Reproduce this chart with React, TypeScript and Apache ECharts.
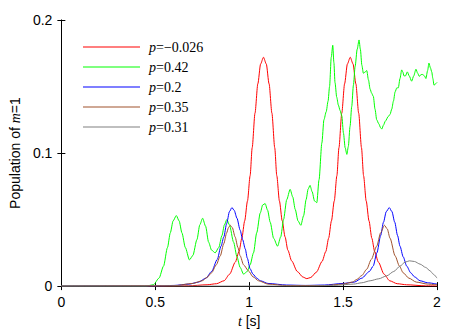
import React, { useEffect, useRef } from "react";
import * as echarts from "echarts";

const pLabels = ["−0.026", "0.42", "0.2", "0.35", "0.31"];
const seriesColors = ["#ff0000", "#00ff00", "#0000ff", "#a0522d", "#808080"];

const redData: [number, number][] = [
  [0, 0], [0.5, 0], [0.676, 0.0002], [0.776, 0.001], [0.826, 0.0018], [0.866, 0.004],
  [0.896, 0.009], [0.926, 0.018], [0.946, 0.026], [0.961, 0.036], [0.976, 0.049],
  [0.991, 0.064], [1.005, 0.083], [1.016, 0.104], [1.031, 0.13], [1.046, 0.152],
  [1.061, 0.167], [1.076, 0.172], [1.091, 0.167], [1.106, 0.152], [1.121, 0.13],
  [1.136, 0.104], [1.147, 0.083], [1.161, 0.064], [1.176, 0.049], [1.191, 0.037],
  [1.206, 0.027], [1.226, 0.019], [1.256, 0.011], [1.286, 0.0068], [1.307, 0.0056],
  [1.328, 0.0065], [1.358, 0.0105], [1.388, 0.0185], [1.408, 0.026], [1.423, 0.036],
  [1.438, 0.049], [1.453, 0.064], [1.467, 0.083], [1.478, 0.104], [1.493, 0.13],
  [1.508, 0.152], [1.523, 0.167], [1.538, 0.172], [1.553, 0.167], [1.568, 0.152],
  [1.583, 0.13], [1.598, 0.104], [1.609, 0.083], [1.623, 0.064], [1.638, 0.049],
  [1.653, 0.036], [1.668, 0.026], [1.688, 0.018], [1.718, 0.009], [1.748, 0.004],
  [1.788, 0.0018], [1.838, 0.001], [1.938, 0.0002], [2.0, 0.0001],
];

const greenData: [number, number][] = [
  [0, 0], [0.45, 0], [0.49, 0.001], [0.52, 0.006], [0.544, 0.015], [0.565, 0.029],
  [0.58, 0.04], [0.595, 0.049], [0.612, 0.053], [0.627, 0.049], [0.642, 0.04],
  [0.66, 0.029], [0.682, 0.0197], [0.7, 0.023], [0.722, 0.035], [0.737, 0.046],
  [0.752, 0.051], [0.768, 0.045], [0.784, 0.033], [0.8, 0.027], [0.819, 0.025],
  [0.838, 0.029], [0.855, 0.038], [0.868, 0.046], [0.881, 0.05], [0.895, 0.046],
  [0.917, 0.033], [0.935, 0.022], [0.952, 0.014], [0.97, 0.009], [0.99, 0.011],
  [1.005, 0.016], [1.023, 0.025], [1.04, 0.04], [1.059, 0.055], [1.072, 0.061],
  [1.085, 0.062], [1.098, 0.057], [1.112, 0.048], [1.13, 0.036], [1.151, 0.03],
  [1.168, 0.037], [1.183, 0.05], [1.2, 0.065], [1.218, 0.0727], [1.232, 0.067],
  [1.245, 0.0577], [1.26, 0.049], [1.275, 0.0457], [1.29, 0.053], [1.303, 0.065],
  [1.314, 0.073], [1.324, 0.0757], [1.335, 0.071], [1.348, 0.064], [1.36, 0.0627],
  [1.372, 0.08], [1.387, 0.1076], [1.398, 0.125], [1.41, 0.131], [1.42, 0.139],
  [1.428, 0.15], [1.437, 0.172], [1.445, 0.181], [1.451, 0.168], [1.457, 0.153],
  [1.466, 0.142], [1.475, 0.136], [1.484, 0.132], [1.493, 0.128], [1.502, 0.115],
  [1.511, 0.104], [1.52, 0.099], [1.528, 0.105], [1.537, 0.12], [1.546, 0.135],
  [1.555, 0.151], [1.564, 0.165], [1.575, 0.178], [1.585, 0.185], [1.592, 0.178],
  [1.6, 0.166], [1.608, 0.16], [1.618, 0.161], [1.626, 0.162], [1.635, 0.155],
  [1.644, 0.148], [1.652, 0.145], [1.661, 0.1426], [1.67, 0.133], [1.679, 0.125],
  [1.69, 0.122], [1.7, 0.119], [1.706, 0.118], [1.715, 0.121], [1.725, 0.124],
  [1.741, 0.1276], [1.75, 0.129], [1.759, 0.133], [1.768, 0.139], [1.777, 0.146],
  [1.786, 0.149], [1.794, 0.149], [1.803, 0.156], [1.812, 0.1625], [1.818, 0.161],
  [1.824, 0.158], [1.832, 0.158], [1.842, 0.161], [1.852, 0.158], [1.865, 0.154],
  [1.876, 0.158], [1.888, 0.163], [1.897, 0.16], [1.906, 0.1576], [1.915, 0.159],
  [1.924, 0.159], [1.933, 0.158], [1.941, 0.156], [1.95, 0.162], [1.957, 0.1676],
  [1.965, 0.164], [1.972, 0.161], [1.978, 0.156], [1.984, 0.151], [1.992, 0.152],
  [2.0, 0.153],
];

const blueData: [number, number][] = [
  [0, 0], [0.5, 0.0001], [0.6, 0.0005], [0.68, 0.0015], [0.73, 0.003], [0.77, 0.006],
  [0.8, 0.011], [0.83, 0.02], [0.85, 0.03], [0.865, 0.037], [0.88, 0.047],
  [0.895, 0.056], [0.908, 0.059], [0.92, 0.057], [0.935, 0.051], [0.952, 0.042],
  [0.965, 0.035], [0.979, 0.028], [0.99, 0.021], [1.005, 0.013], [1.02, 0.009],
  [1.04, 0.006], [1.06, 0.004], [1.1, 0.002], [1.2, 0.0008], [1.3, 0.0005],
  [1.4, 0.0008], [1.5, 0.002], [1.56, 0.003], [1.6, 0.006], [1.64, 0.011],
  [1.66, 0.015], [1.68, 0.025], [1.7, 0.038], [1.715, 0.048], [1.73, 0.056],
  [1.746, 0.059], [1.76, 0.056], [1.775, 0.048], [1.79, 0.038], [1.803, 0.03],
  [1.82, 0.022], [1.839, 0.015], [1.86, 0.01], [1.88, 0.007], [1.91, 0.004],
  [1.95, 0.0025], [2.0, 0.0015],
];

const brownData: [number, number][] = [
  [0, 0], [0.6, 0.0003], [0.7, 0.002], [0.75, 0.004], [0.775, 0.0065], [0.8, 0.01],
  [0.825, 0.016], [0.846, 0.0227], [0.865, 0.032], [0.88, 0.04], [0.89, 0.044],
  [0.899, 0.0457], [0.91, 0.044], [0.925, 0.037], [0.94, 0.029], [0.952, 0.0227],
  [0.97, 0.016], [0.996, 0.0115], [1.02, 0.007], [1.05, 0.004], [1.1, 0.0015],
  [1.2, 0.0004], [1.4, 0.0004], [1.5, 0.0015], [1.55, 0.003], [1.573, 0.005],
  [1.6, 0.008], [1.626, 0.0127], [1.65, 0.02], [1.679, 0.03], [1.7, 0.04],
  [1.72, 0.0457], [1.735, 0.043], [1.75, 0.036], [1.777, 0.0227], [1.8, 0.015],
  [1.82, 0.01], [1.85, 0.006], [1.89, 0.003], [1.95, 0.0015], [2.0, 0.001],
];

const grayData: [number, number][] = [
  [0, 0], [1.3, 0], [1.45, 0.0005], [1.555, 0.0015], [1.6, 0.0025], [1.644, 0.004],
  [1.69, 0.0055], [1.732, 0.0077], [1.77, 0.011], [1.803, 0.015], [1.83, 0.018],
  [1.853, 0.019], [1.88, 0.0185], [1.91, 0.0165], [1.94, 0.014], [1.963, 0.0115],
  [1.98, 0.009], [2.0, 0.006],
];

const allData = [redData, greenData, blueData, brownData, grayData];

const SANS = "'Liberation Sans', Arial, sans-serif";
const SERIF = "'Liberation Serif', 'Times New Roman', serif";

export default function App() {
  const ref = useRef<HTMLDivElement>(null);
  useEffect(() => {
    if (!ref.current) return;
    const chart = echarts.init(ref.current, undefined, { renderer: "svg" });
    const tickStyle = { show: true, inside: true, length: 4, lineStyle: { color: "#000", width: 1 } };
    chart.setOption({
      animation: false,
      backgroundColor: "#fff",
      grid: { left: 61, right: 26, top: 20, bottom: 46, containLabel: false },
      legend: {
        orient: "vertical",
        left: 78,
        top: 35,
        itemWidth: 57,
        itemHeight: 14,
        itemGap: 6,
        icon: "path://M0,7L57,7L57,8.2L0,8.2Z",
        data: pLabels.map((p, i) => ({ name: "p=" + p, itemStyle: { color: seriesColors[i] } })),
        formatter: (name: string) => `{i|p}{n|${name.slice(1)}}`,
        textStyle: {
          padding: [0, 0, 0, 4],
          rich: {
            i: { fontFamily: SERIF, fontStyle: "italic", fontSize: 14, color: "#000" },
            n: { fontFamily: SERIF, fontSize: 14, color: "#000" },
          },
        },
      },
      xAxis: [
        {
          type: "value", min: 0, max: 2, interval: 0.5, position: "bottom",
          axisLine: { show: true, lineStyle: { color: "#888", width: 1 } },
          axisTick: tickStyle,
          splitLine: { show: false },
          axisLabel: { margin: 9, fontFamily: SANS, fontSize: 14, color: "#000", formatter: (v: number) => String(v) },
          name: "{i|t}{a| [s]}",
          nameLocation: "middle",
          nameGap: 27,
          nameTextStyle: {
            rich: {
              i: { fontFamily: SERIF, fontStyle: "italic", fontSize: 14, color: "#000" },
              a: { fontFamily: SANS, fontSize: 14, color: "#000" },
            },
          },
        },
        {
          type: "value", min: 0, max: 2, interval: 0.5, position: "top",
          axisLine: { show: true, lineStyle: { color: "#000", width: 1 } },
          axisTick: tickStyle,
          axisLabel: { show: false },
          splitLine: { show: false },
        },
      ],
      yAxis: [
        {
          type: "value", min: 0, max: 0.2, interval: 0.1, position: "left",
          axisLine: { show: true, lineStyle: { color: "#888", width: 1 } },
          axisTick: tickStyle,
          splitLine: { show: false },
          axisLabel: { margin: 9, fontFamily: SANS, fontSize: 14, color: "#000", formatter: (v: number) => String(Number(v.toFixed(1))) },
          name: "{a|Population of }{i|m}{a|=1}",
          nameLocation: "middle",
          nameGap: 38,
          nameRotate: 90,
          nameTextStyle: {
            rich: {
              i: { fontFamily: SERIF, fontStyle: "italic", fontSize: 14, color: "#000" },
              a: { fontFamily: SANS, fontSize: 14, color: "#000" },
            },
          },
        },
        {
          type: "value", min: 0, max: 0.2, interval: 0.1, position: "right",
          axisLine: { show: true, lineStyle: { color: "#000", width: 1 } },
          axisTick: tickStyle,
          axisLabel: { show: false },
          splitLine: { show: false },
        },
      ],
      series: allData.map((d, i) => ({
        name: "p=" + pLabels[i],
        type: "line",
        xAxisIndex: 0,
        yAxisIndex: 0,
        data: d,
        symbol: "none",
        showSymbol: false,
        smooth: 0.25,
        smoothMonotone: "x",
        color: seriesColors[i],
        lineStyle: { color: seriesColors[i], width: 1 },
      })),
    });
    return () => chart.dispose();
  }, []);
  return (
    <div
      ref={ref}
      style={{ position: "fixed", left: 0, top: 0, width: 463, height: 333, background: "#fff" }}
    />
  );
}
